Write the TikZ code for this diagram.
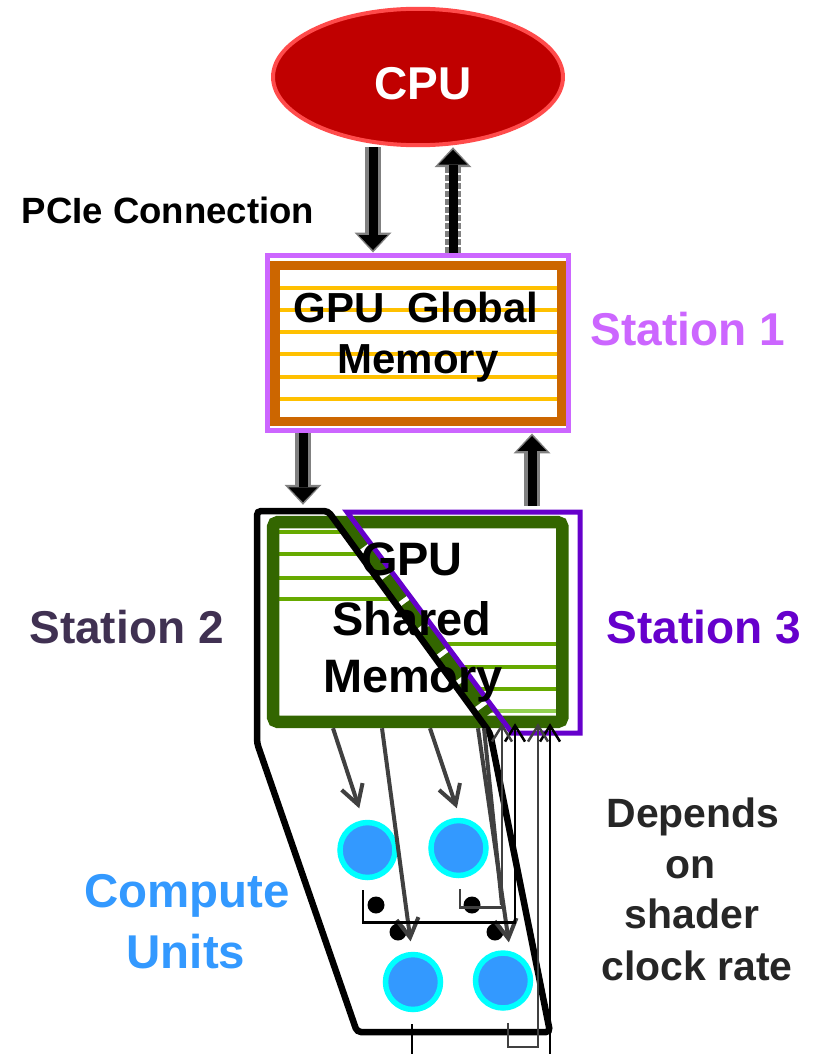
\documentclass[tikz,border=0pt]{standalone}
\usepackage{fontspec}
\setmainfont{Liberation Sans}
\usetikzlibrary{shapes.geometric,arrows.meta}

\definecolor{cpured}{HTML}{C00000}
\definecolor{cpuedge}{HTML}{FF4B4B}
\definecolor{stoneclr}{HTML}{CC66FF}
\definecolor{memorange}{HTML}{CC6600}
\definecolor{memyellow}{HTML}{FFC000}
\definecolor{smgreen}{HTML}{336600}
\definecolor{smline}{HTML}{66AA00}
\definecolor{smlight}{HTML}{92D050}
\definecolor{sttwoclr}{HTML}{403152}
\definecolor{stthreeclr}{HTML}{6600CC}
\definecolor{cublue}{HTML}{3399FF}
\definecolor{cuedge}{HTML}{00FFFF}
\definecolor{feedgray}{HTML}{404040}
\definecolor{notegray}{HTML}{262626}

\tikzset{
  txt/.style={anchor=base, inner sep=0pt},
  cpu/.style={ellipse, draw=cpuedge, fill=cpured, line width=0.08cm,
    minimum width=5.8cm, minimum height=2.73cm, inner sep=0pt},
  globbox/.style={rectangle, draw=stoneclr, line width=0.1cm,
    minimum width=6.04cm, minimum height=3.52cm, inner sep=0pt},
  smbox/.style={rectangle, rounded corners=0.1cm, draw=smgreen, line width=0.25cm,
    minimum width=5.79cm, minimum height=4cm, inner sep=0pt},
  cu/.style={circle, draw=cuedge, fill=cublue, line width=0.11cm,
    minimum size=1.1cm, inner sep=0pt},
  dot/.style={circle, fill=black, minimum size=0.34cm, inner sep=0pt},
  fatbody/.style={line width=0.18cm, -{Triangle[length=0.3cm,width=0.58cm,line width=0pt]}},
  fatrim/.style={draw=gray, line width=0.32cm, -{Triangle[length=0.4cm,width=0.74cm,line width=0pt]}},
  fat/.style={fatbody, shorten >=#1+0.05cm, preaction={fatrim, shorten >=#1}},
  fat/.default=0cm,
  fatdashed/.style={fatbody, shorten >=0.05cm,
    preaction={fatrim, shorten >=0cm, dash pattern=on 0.12cm off 0.04cm}},
  feed/.style={draw=feedgray, line width=0.08cm, -{Straight Barb[length=0.38cm,width=0.44cm]}},
  back/.style={line width=0.05cm, shorten >=-0.1cm, -{Straight Barb[length=0.32cm,width=0.4cm]}},
  memline/.style={line width=0.075cm},
}

\begin{document}
\begin{tikzpicture}[x=0.02cm, y=-0.02cm]
\useasboundingbox (0,0) rectangle (815,1054);

% CPU
\node[cpu] (cpu) at (418,77) {};
\node[txt, text=white, font=\bfseries\fontsize{26.2}{31}\selectfont] (cputxt) at (423,100) {CPU};
\node[txt, font=\bfseries\fontsize{20.8}{25}\selectfont] (pcie) at (168,223) {PCIe Connection};

% global memory
\node[globbox] (glob) at (418,343) {};
\foreach \y in {288,310,332,354,377,399}
  \draw[memline, memyellow] (279,\y) -- (557,\y);
\draw[memorange, line width=0.19cm] (275,265.5) rectangle (561.5,421.5);
\node[txt, font=\bfseries\fontsize{23.9}{29}\selectfont] (globa) at (416,322) {GPU\ \ Global};
\node[txt, font=\bfseries\fontsize{23.9}{29}\selectfont] (globb) at (418,373) {Memory};
\node[txt, text=stoneclr, font=\bfseries\fontsize{26.2}{31}\selectfont] (stone) at (688,345) {Station 1};

% shared memory
\foreach \y/\xe in {532/343, 554/359, 578/377, 599/392}
  \draw[memline, smline] (279,\y) -- (\xe,\y);
\foreach \y/\xs in {644/446, 667/463, 689/479}
  \draw[memline, smline] (\xs,\y) -- (557,\y);
\draw[memline, smlight] (482,711) -- (557,711);
\node[smbox] (sm) at (417.75,622) {};
\draw[smgreen, line width=0.3cm, dash pattern=on 0.55cm off 0.1cm] (347,525) -- (488,715);

% station outlines
\draw[line width=0.13cm, rounded corners=0.08cm] (328,511) -- (490,733) -- (550,1032)
  -- (357,1032) -- (257,743) -- (257,511) -- cycle;
\draw[stthreeclr, line width=0.1cm] (347,512) -- (580,512) -- (580,733) -- (512,733) -- cycle;

\node[txt, font=\bfseries\fontsize{26.7}{32}\selectfont] (sma) at (412,575) {GPU};
\node[txt, font=\bfseries\fontsize{26.7}{32}\selectfont] (smb) at (412,635) {Shared};
\node[txt, font=\bfseries\fontsize{26.7}{32}\selectfont] (smc) at (413,692) {Memory};
\node[txt, text=sttwoclr, font=\bfseries\fontsize{26.2}{31}\selectfont] (sttwo) at (126.5,643) {Station 2};
\node[txt, text=stthreeclr, font=\bfseries\fontsize{26.2}{31}\selectfont] (stthree) at (704,643) {Station 3};

% block arrows
\draw[fat] (cpu.south -| 373,0) -- (glob.north -| 373,0);
\draw[fatdashed] (glob.north -| 453,0) -- (cpu.south -| 453,0);
\draw[fat=0.22cm] (glob.south -| 303,0) -- (sm.north -| 303,0);
\draw[fat, shorten <=0.2cm] (sm.north -| 532,0) -- (glob.south -| 532,0);

% compute units
\node[cu] (c1) at (367.5,850) {};
\node[cu] (c2) at (458.5,848) {};
\node[cu] (c3) at (413,982) {};
\node[cu] (c4) at (503,980.5) {};
\node[dot] (d1) at (376,905) {};
\node[dot] (d2) at (472,905) {};
\node[dot] (d3) at (398,932) {};
\node[dot] (d4) at (495,932) {};

\draw[feed, shorten >=0.24cm] (sm.south -| 333,0) -- (c1.north -| 363,0);
\draw[feed, shorten >=0.21cm] (sm.south -| 382,0) -- (c3.north -| 412,0);
\draw[feed, shorten >=0.2cm] (sm.south -| 430,0) -- (c2.north -| 460,0);
\draw[feed, shorten >=0.16cm] (sm.south -| 478,0) -- (c4.north -| 510,0);
\draw[feedgray, line width=0.08cm] (sm.south -| 484,0) -- (d2 -| 502,0);

\draw[back, shorten <=0.2cm] (c1.south -| 363,0) -- ++(0,42) -| (sm.south -| 515,0);
\draw[back, feedgray, shorten <=0.22cm] (c2.south -| 460,0) -- ++(0,29) -| (sm.south -| 502,0);
\draw[back, shorten <=0.24cm] (c3.south -| 412,0) -- ++(0,80) -| (sm.south -| 550,0);
\draw[back, feedgray, shorten <=0.24cm] (c4.south -| 508,0) -- ++(0,36) -| (sm.south -| 538,0);

\node[txt, text=cublue, font=\bfseries\fontsize{27}{32}\selectfont] (cua) at (187,907) {Compute};
\node[txt, text=cublue, font=\bfseries\fontsize{27}{32}\selectfont] (cub) at (186,968) {Units};

% note
\node[txt, text=notegray, font=\bfseries\fontsize{23.3}{29}\selectfont] (nta) at (693,827) {Depends};
\node[txt, text=notegray, font=\bfseries\fontsize{23.3}{29}\selectfont] (ntb) at (690,878) {on};
\node[txt, text=notegray, font=\bfseries\fontsize{23.3}{29}\selectfont] (ntc) at (692,928) {shader};
\node[txt, text=notegray, font=\bfseries\fontsize{23.3}{29}\selectfont] (ntd) at (697,980) {clock rate};
\end{tikzpicture}
\end{document}
